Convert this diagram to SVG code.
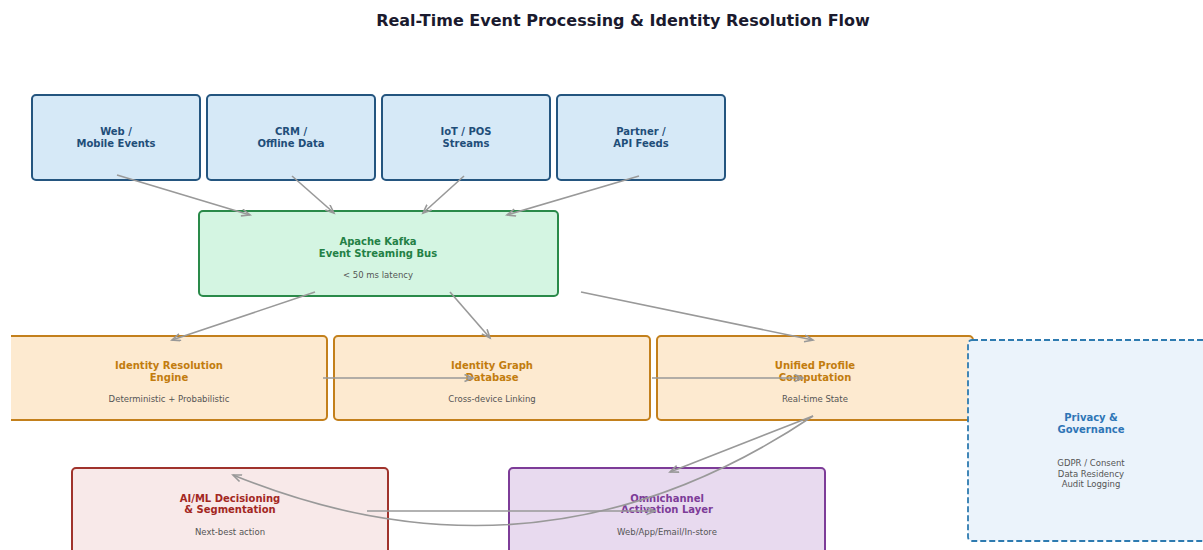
<svg xmlns="http://www.w3.org/2000/svg" width="1203" height="550" viewBox="0 0 1203 550">
  <style>
    .lbl { font-family: "DejaVu Sans", sans-serif; font-weight: bold; font-size: 10px; text-anchor: middle; }
    .sub { font-family: "DejaVu Sans", sans-serif; font-size: 8.5px; fill: #555555; text-anchor: middle; }
    .src rect { fill: #d6e9f7; stroke: #24557f; stroke-width: 2; }
    .src text { fill: #1f4e79; }
    .proc rect { fill: #fdead0; stroke: #c3801c; stroke-width: 2; }
    .proc text.lbl { fill: #c27c0e; }
    .conn path { fill: none; stroke: #999999; stroke-width: 1.6; }
  </style>
  <defs>
    <marker id="head" markerUnits="userSpaceOnUse" markerWidth="12" markerHeight="10" refX="9" refY="4" orient="auto">
      <path d="M0.5,0.5 L9,4 L0.5,7.5" fill="none" stroke="#999999" stroke-width="1.6"/>
    </marker>
    <clipPath id="frame">
      <rect x="11" y="0" width="1192" height="550"/>
    </clipPath>
  </defs>

  <rect width="1203" height="550" fill="#ffffff"/>

  <text x="623" y="26" font-family="DejaVu Sans, sans-serif" font-weight="bold" font-size="16" fill="#1a1a2e" text-anchor="middle">Real-Time Event Processing &amp; Identity Resolution Flow</text>

  <g clip-path="url(#frame)">
    <!-- Data sources -->
    <g id="web" class="src">
      <rect x="32" y="95" width="168" height="85" rx="4"/>
      <text class="lbl" x="116" y="135">Web /</text>
      <text class="lbl" x="116" y="146.5">Mobile Events</text>
    </g>
    <g id="crm" class="src">
      <rect x="207" y="95" width="168" height="85" rx="4"/>
      <text class="lbl" x="291" y="135">CRM /</text>
      <text class="lbl" x="291" y="146.5">Offline Data</text>
    </g>
    <g id="iot" class="src">
      <rect x="382" y="95" width="168" height="85" rx="4"/>
      <text class="lbl" x="466" y="135">IoT / POS</text>
      <text class="lbl" x="466" y="146.5">Streams</text>
    </g>
    <g id="partner" class="src">
      <rect x="557" y="95" width="168" height="85" rx="4"/>
      <text class="lbl" x="641" y="135">Partner /</text>
      <text class="lbl" x="641" y="146.5">API Feeds</text>
    </g>

    <!-- Streaming bus -->
    <g id="kafka">
      <rect x="199" y="211" width="359" height="85" rx="4" fill="#d4f5e2" stroke="#2a8a4a" stroke-width="2"/>
      <text class="lbl" x="378" y="245" fill="#238045">Apache Kafka</text>
      <text class="lbl" x="378" y="256.5" fill="#238045">Event Streaming Bus</text>
      <text class="sub" x="378" y="277.5">&lt; 50 ms latency</text>
    </g>

    <!-- Processing -->
    <g id="resolution" class="proc">
      <rect x="5" y="336" width="322" height="84" rx="4"/>
      <text class="lbl" x="169" y="369">Identity Resolution</text>
      <text class="lbl" x="169" y="380.5">Engine</text>
      <text class="sub" x="169" y="402">Deterministic + Probabilistic</text>
    </g>
    <g id="graph" class="proc">
      <rect x="334" y="336" width="316" height="84" rx="4"/>
      <text class="lbl" x="492" y="369">Identity Graph</text>
      <text class="lbl" x="492" y="380.5">Database</text>
      <text class="sub" x="492" y="402">Cross-device Linking</text>
    </g>
    <g id="profile" class="proc">
      <rect x="657" y="336" width="316" height="84" rx="4"/>
      <text class="lbl" x="815" y="369">Unified Profile</text>
      <text class="lbl" x="815" y="380.5">Computation</text>
      <text class="sub" x="815" y="402">Real-time State</text>
    </g>

    <!-- Governance -->
    <g id="privacy">
      <rect x="968" y="340" width="250" height="201" rx="4" fill="#ebf3fb" stroke="#2e7bb0" stroke-width="1.8" stroke-dasharray="6,3"/>
      <text class="lbl" x="1091" y="421" fill="#2e75b6">Privacy &amp;</text>
      <text class="lbl" x="1091" y="432.5" fill="#2e75b6">Governance</text>
      <text class="sub" x="1091" y="466">GDPR / Consent</text>
      <text class="sub" x="1091" y="476.5">Data Residency</text>
      <text class="sub" x="1091" y="487">Audit Logging</text>
    </g>

    <!-- Outputs -->
    <g id="decisioning">
      <rect x="72" y="468" width="316" height="100" rx="4" fill="#f8e9e9" stroke="#a0332c" stroke-width="2"/>
      <text class="lbl" x="230" y="501.5" fill="#a3271f">AI/ML Decisioning</text>
      <text class="lbl" x="230" y="513" fill="#a3271f">&amp; Segmentation</text>
      <text class="sub" x="230" y="535">Next-best action</text>
    </g>
    <g id="activation">
      <rect x="509" y="468" width="316" height="100" rx="4" fill="#e8daef" stroke="#7d3c98" stroke-width="2"/>
      <text class="lbl" x="667" y="501.5" fill="#7d3c98">Omnichannel</text>
      <text class="lbl" x="667" y="513" fill="#7d3c98">Activation Layer</text>
      <text class="sub" x="667" y="535">Web/App/Email/In-store</text>
    </g>

    <!-- Connectors -->
    <g id="connectors" class="conn">
      <path d="M117,175 L250,215" marker-end="url(#head)"/>
      <path d="M292,176 L334,213" marker-end="url(#head)"/>
      <path d="M464,176 L423,213" marker-end="url(#head)"/>
      <path d="M639,176 L507,215" marker-end="url(#head)"/>
      <path d="M315,292 L172,340" marker-end="url(#head)"/>
      <path d="M450,292 L490,338" marker-end="url(#head)"/>
      <path d="M581,292 L813,340" marker-end="url(#head)"/>
      <path d="M323,378 L473,378" marker-end="url(#head)"/>
      <path d="M652,378 L803,378" marker-end="url(#head)"/>
      <path d="M813,416 L670,472" marker-end="url(#head)"/>
      <path d="M813,416 Q539,600 233,475" marker-end="url(#head)"/>
      <path d="M367,511 L655,511" marker-end="url(#head)"/>
    </g>
  </g>
</svg>
